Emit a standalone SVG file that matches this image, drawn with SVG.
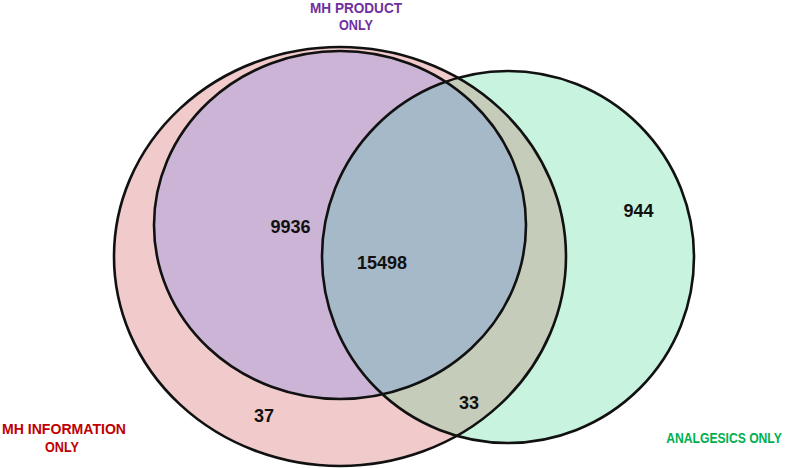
<svg xmlns="http://www.w3.org/2000/svg" width="787" height="468" viewBox="0 0 787 468">
<style>
.num{font-family:"Liberation Sans",Arial,sans-serif;font-weight:bold;font-size:18px;fill:#111}
.lab{font-family:"Liberation Sans",Arial,sans-serif;font-weight:bold;font-size:15px}
.edge{fill:none;stroke:#111;stroke-width:2.6}
</style>
<defs>
<clipPath id="cGreen"><circle cx="508" cy="257" r="186"/></clipPath>
</defs>
<rect width="787" height="468" fill="#fff"/>
<g id="mh-information">
<ellipse cx="340" cy="256.5" rx="226" ry="209.5" fill="#F1CBCB"/>
</g>
<g id="analgesics">
<circle cx="508" cy="257" r="186" fill="#C8F3DF"/>
</g>
<g id="mh-product">
<ellipse cx="340" cy="225" rx="186" ry="174" fill="#CBB4D6"/>
</g>
<g id="info-analgesics" clip-path="url(#cGreen)">
<ellipse cx="340" cy="256.5" rx="226" ry="209.5" fill="#C6CCBA"/>
</g>
<g id="product-analgesics" clip-path="url(#cGreen)">
<ellipse cx="340" cy="225" rx="186" ry="174" fill="#A6B9C8"/>
</g>
<g id="outlines">
<ellipse class="edge" cx="340" cy="256.5" rx="226" ry="209.5"/>
<ellipse class="edge" cx="340" cy="225" rx="186" ry="174"/>
<circle class="edge" cx="508" cy="257" r="186" stroke="#0d1a2a" stroke-width="2.2"/>
</g>
<g id="counts">
<text class="num" x="290.5" y="233" text-anchor="middle">9936</text>
<text class="num" x="382" y="269" text-anchor="middle">15498</text>
<text class="num" x="638.5" y="217" text-anchor="middle">944</text>
<text class="num" x="264" y="422" text-anchor="middle">37</text>
<text class="num" x="469" y="409" text-anchor="middle">33</text>
</g>
<g id="labels">
<text class="lab" fill="#7030A0" x="356" y="12.5" text-anchor="middle" textLength="92" lengthAdjust="spacingAndGlyphs">MH PRODUCT</text>
<text class="lab" fill="#7030A0" x="356" y="30" text-anchor="middle" textLength="34" lengthAdjust="spacingAndGlyphs">ONLY</text>
<text class="lab" fill="#C00000" x="64" y="434" text-anchor="middle" textLength="124" lengthAdjust="spacingAndGlyphs">MH INFORMATION</text>
<text class="lab" fill="#C00000" x="62" y="452" text-anchor="middle" textLength="34" lengthAdjust="spacingAndGlyphs">ONLY</text>
<text class="lab" fill="#00B050" transform="translate(724 443) scale(0.81 1)" x="0" y="0" text-anchor="middle">ANALGESICS ONLY</text>
</g>
</svg>
